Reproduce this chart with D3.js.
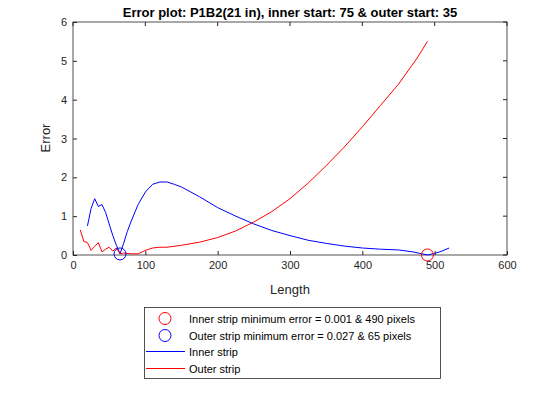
<!DOCTYPE html>
<html><head><meta charset="utf-8">
<script src="https://cdn.jsdelivr.net/npm/d3@7"></script>
<style>body{margin:0;background:#fff}text{font-family:Arial,"Liberation Sans",sans-serif}</style>
</head><body>
<script>
var innerX = [20,25,30,35,40,45,50,55,60,65,70,75,80,90,100,110,120,130,140,150,175,200,225,250,275,300,325,350,375,400,425,450,470,480,490,500,510,520];
var innerY = [0.75,1.2,1.45,1.25,1.3,1.1,0.8,0.5,0.25,0.03,0.3,0.6,0.85,1.3,1.62,1.82,1.88,1.88,1.82,1.75,1.5,1.22,1.0,0.8,0.63,0.5,0.38,0.3,0.23,0.18,0.15,0.13,0.08,0.04,0.001,0.04,0.1,0.18];
var outerX = [10,15,20,25,30,35,40,45,50,55,60,65,70,80,90,100,110,120,130,150,175,200,225,250,275,300,325,350,375,400,425,450,475,490];
var outerY = [0.65,0.35,0.32,0.12,0.22,0.32,0.08,0.15,0.2,0.1,0.18,0.03,0.05,0.03,0.03,0.12,0.18,0.2,0.2,0.25,0.33,0.45,0.62,0.85,1.12,1.45,1.85,2.3,2.78,3.3,3.85,4.4,5.05,5.5];
var xTicks = [0,100,200,300,400,500,600];
var yTicks = [0,1,2,3,4,5,6];
var minPts = [{x:490,y:0.001,c:"red"},{x:65,y:0.027,c:"blue"}];
var legendItems = [
  {t:"Inner strip minimum error = 0.001 & 490 pixels",c:"red",k:"o"},
  {t:"Outer strip minimum error  = 0.027 & 65 pixels",c:"blue",k:"o"},
  {t:"Inner strip",c:"blue",k:"l"},
  {t:"Outer strip",c:"red",k:"l"}];

var svg = d3.select("body").append("svg").attr("width",560).attr("height",420);
var L=73,R=507,T=22,B=255;
var x = d3.scaleLinear().domain([0,600]).range([L,R]);
var y = d3.scaleLinear().domain([0,6]).range([B,T]);

svg.append("g").attr("transform","translate(0,"+B+")")
  .call(d3.axisBottom(x).tickValues(xTicks).tickFormat(d3.format("d")).tickSizeInner(-4).tickSizeOuter(0).tickPadding(6))
  .call(g=>g.selectAll("text").attr("font-size",11).attr("fill","#262626"));
svg.append("g").attr("transform","translate("+L+",0)")
  .call(d3.axisLeft(y).tickValues(yTicks).tickFormat(d3.format("d")).tickSizeInner(-4).tickSizeOuter(0).tickPadding(6))
  .call(g=>g.selectAll("text").attr("font-size",11).attr("fill","#262626"));
svg.selectAll(".domain").remove();
svg.selectAll(".tick line").attr("stroke","#262626");
svg.append("g").selectAll("line").data(xTicks).enter().append("line")
  .attr("x1",d=>x(d)).attr("x2",d=>x(d)).attr("y1",T).attr("y2",T+4).attr("stroke","#262626");
svg.append("g").selectAll("line").data(yTicks).enter().append("line")
  .attr("x1",R).attr("x2",R-4).attr("y1",d=>y(d)).attr("y2",d=>y(d)).attr("stroke","#262626");
svg.append("rect").attr("x",L).attr("y",T).attr("width",R-L).attr("height",B-T)
  .attr("fill","none").attr("stroke","#262626").attr("stroke-width",0.8);

var line = d3.line().x(d=>x(d[0])).y(d=>y(d[1]));
svg.append("path").datum(innerX.map((v,i)=>[v,innerY[i]])).attr("d",line)
  .attr("fill","none").attr("stroke","blue").attr("stroke-width",1);
svg.append("path").datum(outerX.map((v,i)=>[v,outerY[i]])).attr("d",line)
  .attr("fill","none").attr("stroke","red").attr("stroke-width",1);
svg.selectAll(".mp").data(minPts).enter().append("circle")
  .attr("cx",d=>x(d.x)).attr("cy",d=>y(d.y)).attr("r",6)
  .attr("fill","none").attr("stroke",d=>d.c);

svg.append("text").attr("x",290).attr("y",17).attr("text-anchor","middle")
  .attr("font-size",13).attr("font-weight","bold").attr("fill","#000")
  .text("Error plot: P1B2(21 in), inner start: 75 & outer start: 35");
svg.append("text").attr("x",290).attr("y",294).attr("text-anchor","middle")
  .attr("font-size",13).attr("fill","#262626").text("Length");
svg.append("text").attr("transform","translate(50,138) rotate(-90)").attr("text-anchor","middle")
  .attr("font-size",13).attr("fill","#262626").text("Error");

var lg = svg.append("g");
lg.append("rect").attr("x",144.5).attr("y",307.5).attr("width",296).attr("height",71)
  .attr("fill","#fff").attr("stroke","#262626").attr("stroke-width",0.8);
legendItems.forEach(function(d,i){
  var yy = Math.round(318 + i*16.5) + 0.5;
  if(d.k=="o") lg.append("circle").attr("cx",165).attr("cy",yy).attr("r",6).attr("fill","none").attr("stroke",d.c);
  else lg.append("line").attr("x1",146).attr("x2",185).attr("y1",yy).attr("y2",yy).attr("stroke",d.c).attr("stroke-width",1);
  lg.append("text").attr("x",189).attr("y",yy+4).attr("font-size",11).attr("fill","#000").text(d.t);
});
</script>
</body></html>
